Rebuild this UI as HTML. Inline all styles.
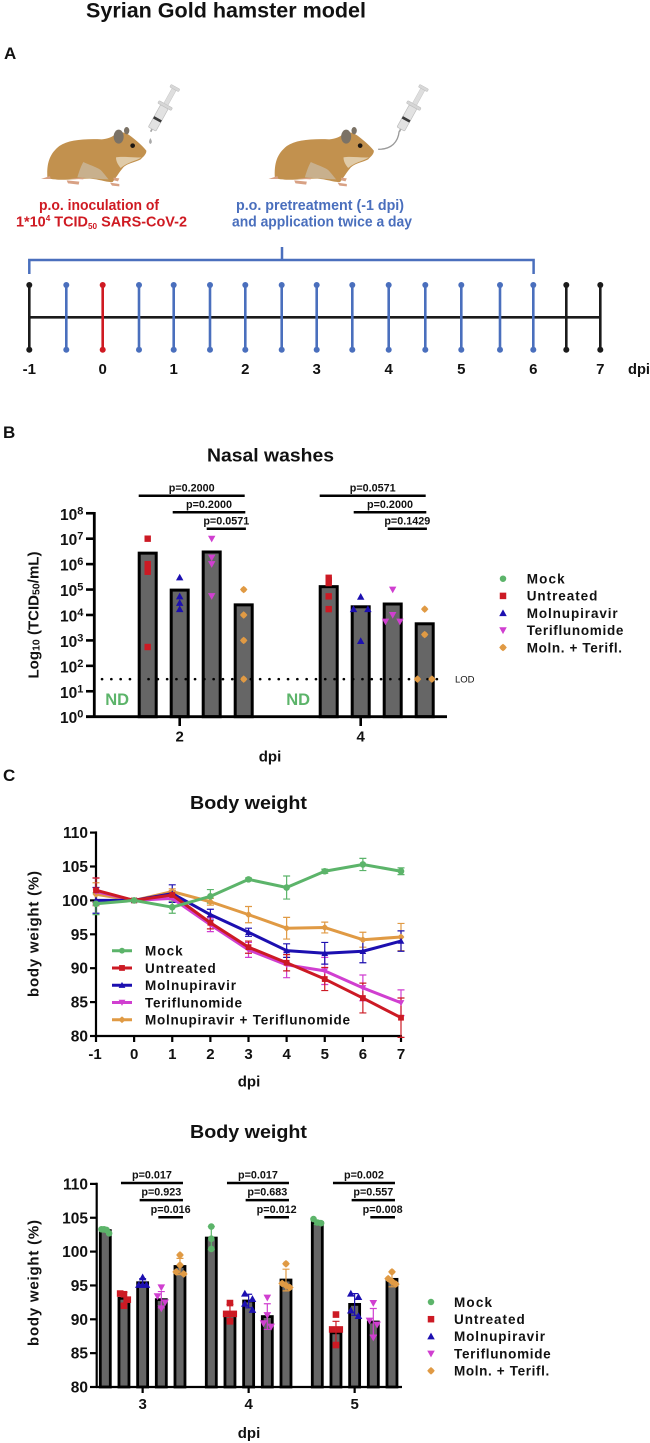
<!DOCTYPE html>
<html lang="en">
<head>
<meta charset="utf-8">
<title>Syrian Gold hamster model</title>
<style>
html,body{margin:0;padding:0;background:#fff;}
svg{display:block;}
text{font-family:"Liberation Sans",sans-serif;font-weight:bold;fill:#111;}
</style>
</head>
<body>
<svg id="fig" xmlns="http://www.w3.org/2000/svg" width="650" height="1443" viewBox="0 0 650 1443">
  <defs>
    <g id="hamster-shape">
      <path d="M52 292 C50 250 58 222 88 198 C115 180 160 176 215 178 C232 176 248 172 258 160 C275 152 292 160 304 170 C322 184 338 198 349 212 C350 222 340 230 332 238 C318 246 296 248 280 262 C268 276 256 296 248 306 C232 308 208 298 180 296 C140 296 100 302 76 298 C66 298 58 296 52 292 Z" fill="#c2914e"/>
      <path d="M142 292 C148 272 154 256 160 246 C176 254 198 260 212 270 C222 280 230 292 236 298 C205 297 170 294 142 292 Z" fill="#c8b08d"/>
      <path d="M258 232 C280 228 310 234 334 232 C322 242 296 244 272 264 C264 254 258 244 258 232 Z" fill="#e0cba8"/>
      <ellipse cx="266" cy="170" rx="15" ry="21" fill="#7b7266"/>
      <ellipse cx="290" cy="152" rx="8" ry="11" fill="#7b7266"/>
      <circle cx="308" cy="197" r="7" fill="#1c1712"/>
      <path d="M33 297 L60 288 L62 297 Z M110 301 L148 305 L146 314 L114 310 Z M240 308 L268 312 L268 319 L246 317 Z M250 293 L268 295 L264 304 L252 301 Z M120 296 L160 293 L160 298 Z" fill="#d8a184"/>
    </g>
    <g id="syringe-shape">
      <g transform="translate(362,155) rotate(29)">
        <rect x="-2.5" y="-10" width="5" height="10" fill="#a5a5a5"/>
        <rect x="-13" y="-85" width="26" height="76" rx="3" fill="#e2e2e2" stroke="#bdbdbd" stroke-width="2"/>
        <rect x="-13" y="-46" width="26" height="8" fill="#3b3b3b"/>
        <rect x="-23" y="-94" width="46" height="9" rx="3" fill="#d6d6d6" stroke="#bdbdbd" stroke-width="1.5"/>
        <rect x="-7" y="-146" width="14" height="52" fill="#dedede" stroke="#c6c6c6" stroke-width="1.5"/>
        <rect x="-15" y="-154" width="30" height="9" rx="3" fill="#d8d8d8" stroke="#bdbdbd" stroke-width="1.5"/>
      </g>
    </g>
  </defs>

  <text x="86" y="17.5" font-size="21" textLength="280" lengthAdjust="spacingAndGlyphs">Syrian Gold hamster model</text>
  <text x="4" y="59" font-size="17">A</text>
  <text x="3" y="438" font-size="17">B</text>
  <text x="3" y="781" font-size="17">C</text>

  <g transform="translate(30,80) scale(0.3333)">
    <use href="#hamster-shape"/>
    <use href="#syringe-shape"/>
    <path d="M361 174 C366 182 368 188 361 192 C355 188 357 182 361 174 Z" fill="#a9a9a9"/>
  </g>
  <g transform="translate(257.5,80) scale(0.3333)">
    <use href="#hamster-shape"/>
    <use href="#syringe-shape" transform="translate(63.5,0)"/>
    <path d="M425 154 C422 186 402 208 362 208" fill="none" stroke="#9a9a9a" stroke-width="4"/>
  </g>

  <text x="39" y="210" font-size="15" style="fill:#cf1a22" textLength="120" lengthAdjust="spacingAndGlyphs">p.o. inoculation of</text>
  <text x="16" y="226.5" font-size="15" style="fill:#cf1a22" textLength="171" lengthAdjust="spacingAndGlyphs">1*10<tspan font-size="8.5" dy="-5.5">4</tspan><tspan dy="5.5"> TCID</tspan><tspan font-size="8.5" dy="2.5">50</tspan><tspan dy="-2.5">  SARS-CoV-2</tspan></text>
  <text x="236" y="210" font-size="15" style="fill:#4a6fbd" textLength="168" lengthAdjust="spacingAndGlyphs">p.o. pretreatment (-1 dpi)</text>
  <text x="232" y="226.5" font-size="15" style="fill:#4a6fbd" textLength="180" lengthAdjust="spacingAndGlyphs">and application twice a day</text>

  <path d="M29.3 274 V260 H533.6 V274 M282 247 V260" fill="none" stroke="#4a6fbd" stroke-width="2.5"/>
  <g id="timeline"></g>

  <text x="270.5" y="461.5" font-size="18.5" text-anchor="middle" textLength="127" lengthAdjust="spacingAndGlyphs">Nasal washes</text>
  <g id="nasal"></g>

  <text x="248.5" y="809" font-size="18.5" text-anchor="middle" textLength="117" lengthAdjust="spacingAndGlyphs">Body weight</text>
  <g id="lines"></g>

  <text x="248.5" y="1138" font-size="18.5" text-anchor="middle" textLength="117" lengthAdjust="spacingAndGlyphs">Body weight</text>
  <g id="bars"></g>
</svg>

<script>
// ---------- shared data ----------
const seriesNames = ['Mock', 'Untreated', 'Molnupiravir', 'Teriflunomide', 'Moln. + Terifl.'];
const seriesColors = ['#5cb46a', '#cc1a24', '#1c0fb0', '#d03fd0', '#e09a44'];
const seriesMarkers = ['circle', 'square', 'up', 'down', 'diamond'];

// ---------- panel A timeline ----------
const timelineDays = [-1, -0.5, 0, 0.5, 1, 1.5, 2, 2.5, 3, 3.5, 4, 4.5, 5, 5.5, 6, 6.5, 7];
const timelineKinds = ['black', 'blue', 'red', 'blue', 'blue', 'blue', 'blue', 'blue', 'blue', 'blue', 'blue', 'blue', 'blue', 'blue', 'blue', 'black', 'black'];

// ---------- panel B nasal washes (TCID50/mL) ----------
const nasalDays = ['2', '4'];
const nasalTicks = [0, 1, 2, 3, 4, 5, 6, 7, 8];
const nasalLod = 30;
const nasalBars = [
  [null, 2.7e6, 9.5e4, 3e6, 2.5e4],
  [null, 1.3e5, 2.1e4, 2.7e4, 4.5e3]
];
const nasalPoints = [
  [[], [1e7, 1e6, 7e5, 5e5, 550], [3e5, 5.4e4, 3e4, 1.7e4], [1e7, 1.8e6, 1e6, 5.5e4], [1e5, 1e4, 1e3, 30]],
  [[], [2.9e5, 2.3e5, 1.8e5, 5.4e4, 1.7e4], [5.2e4, 1.7e4, 1.7e4, 950], [1e5, 1e4, 5.5e3, 5.5e3], [1.7e4, 1.7e3, 30, 30]]
];
const nasalP = [
  ['p=0.2000', 'p=0.2000', 'p=0.0571'],
  ['p=0.0571', 'p=0.2000', 'p=0.1429']
];

// ---------- panel C body weight lines ----------
const lineDays = [-1, 0, 1, 2, 3, 4, 5, 6, 7];
const lineTicksY = [80, 85, 90, 95, 100, 105, 110];
const lineNames = ['Mock', 'Untreated', 'Molnupiravir', 'Teriflunomide', 'Molnupiravir + Teriflunomide'];
const lineMock = [99.5, 100, 99.0, 100.6, 103.1, 101.9, 104.3, 105.3, 104.3];
const lineUntreated = [101.5, 100, 100.8, 96.7, 93.1, 90.8, 88.4, 85.6, 82.7];
const lineMolnu = [100.0, 100, 101.0, 97.9, 95.3, 92.6, 92.2, 92.5, 94.0];
const lineTeri = [101.3, 100, 100.3, 96.4, 92.7, 90.5, 89.6, 87.1, 84.9];
const lineCombo = [100.9, 100, 101.3, 99.8, 97.9, 95.9, 96.0, 94.2, 94.6];
const errMock = [1.6, 0.1, 0.9, 1.0, 0.2, 1.7, 0.3, 0.9, 0.5];
const errUntreated = [1.8, 0.1, 0.6, 0.9, 0.9, 1.2, 1.7, 2.2, 2.9];
const errMolnu = [1.9, 0.1, 1.3, 0.8, 0.6, 1.0, 1.6, 1.7, 1.5];
const errTeri = [2.0, 0.1, 0.5, 1.0, 1.1, 1.9, 2.0, 1.9, 1.9];
const errCombo = [1.7, 0.1, 0.4, 0.5, 1.2, 1.6, 0.8, 1.1, 2.0];

// ---------- panel C body weight bars ----------
const barDays = ['3', '4', '5'];
const barMeans = [
  [103.1, 93.1, 95.4, 92.9, 97.8],
  [102.0, 91.0, 92.7, 90.4, 95.8],
  [104.3, 88.0, 92.2, 89.6, 95.9]
];
const barErrors = [
  [0.2, 0.9, 0.6, 1.2, 1.2],
  [1.7, 1.2, 1.0, 1.9, 1.6],
  [0.3, 1.7, 1.6, 2.0, 1.1]
];
const barPoints = [
  [[103.3, 103.3, 103.2, 102.7], [93.8, 93.7, 92.9, 92.0], [96.2, 95.1, 95.1, 95.1], [94.7, 93.4, 92.5, 91.6], [99.5, 98.0, 97.0, 96.7]],
  [[103.7, 101.9, 100.4], [92.4, 90.8, 90.8, 89.7], [93.8, 93.0, 92.3, 91.4], [93.2, 90.6, 89.4, 88.9], [98.2, 95.3, 95.0, 94.7]],
  [[104.8, 104.3, 104.2], [90.7, 88.5, 88.5, 86.2], [93.8, 93.3, 91.3, 90.5], [92.4, 89.8, 89.2, 87.3], [97.0, 96.0, 95.6, 95.2]]
];
const barP = [
  ['p=0.017', 'p=0.923', 'p=0.016'],
  ['p=0.017', 'p=0.683', 'p=0.012'],
  ['p=0.002', 'p=0.557', 'p=0.008']
];

// ---------- helpers ----------
const NS = 'http://www.w3.org/2000/svg';
function make(tag, parent, attrs, txt) {
  const e = document.createElementNS(NS, tag);
  for (const k in attrs) e.setAttribute(k, attrs[k]);
  if (txt !== undefined) e.textContent = txt;
  parent.appendChild(e);
  return e;
}
function marker(parent, kind, x, y, s, color) {
  if (kind === 'circle') return make('circle', parent, {cx: x, cy: y, r: s * 0.5, fill: color});
  if (kind === 'square') return make('rect', parent, {x: x - s / 2, y: y - s / 2, width: s, height: s, fill: color});
  let pts;
  const h = s * 0.58;
  if (kind === 'up') pts = [[x, y - h], [x + h, y + h * 0.8], [x - h, y + h * 0.8]];
  else if (kind === 'down') pts = [[x, y + h], [x + h, y - h * 0.8], [x - h, y - h * 0.8]];
  else pts = [[x, y - h], [x + h * 0.55, y - h * 0.55], [x + h, y], [x + h * 0.55, y + h * 0.55], [x, y + h], [x - h * 0.55, y + h * 0.55], [x - h, y], [x - h * 0.55, y - h * 0.55]];
  return make('polygon', parent, {points: pts.map(p => p.join(',')).join(' '), fill: color});
}
// spread points with nearly equal plotted heights sideways (Prism-style swarm)
function swarm(ys, threshold, width) {
  const out = [];
  let i = 0;
  while (i < ys.length) {
    let j = i + 1;
    while (j < ys.length && Math.abs(ys[j] - ys[i]) <= threshold) j++;
    const n = j - i;
    for (let k = 0; k < n; k++) out.push(n === 1 ? 0 : -width / 2 + k * width / (n - 1));
    i = j;
  }
  return out;
}
function legendGroup(parent, names, mx, tx, ys, widths) {
  names.forEach((name, s) => {
    const m = marker(parent, seriesMarkers[s], mx, ys(s), 6.5, seriesColors[s]);
    
    
    const t = make('text', parent, {x: tx, y: ys(s) + 4.8, 'font-size': 13.5, textLength: widths[s], lengthAdjust: 'spacing'}, name);
    
    
  });
}
function bracket(parent, x1, x2, y, labelY, label, size, sw) {
  const l = make('line', parent, {x1: x1, x2: x2, y1: y, y2: y, stroke: '#000', 'stroke-width': sw});
  
  
  const t = make('text', parent, {x: (x1 + x2) / 2, y: labelY, 'font-size': size, 'text-anchor': 'middle'}, label);
  
  
}
const legendWidths = [38, 70.7, 91, 96.7, 95.3];

// ---------- draw timeline ----------
(function () {
  const g = document.getElementById('timeline');
  const anchorDays = [-1, 0, 1, 2, 3, 4, 5, 6, 7];
  const anchorPx = [29.3, 102.7, 173.7, 245.3, 316.7, 388.7, 461.3, 533.3, 600.3];
  const halfPx = [66.3, 139, 210, 281.7, 352.3, 425.3, 500, 566.3];
  const kindColor = {black: '#1b1b1b', blue: '#4a6fbd', red: '#cf1a22'};
  const xDay = d => Number.isInteger(d) ? anchorPx[anchorDays.indexOf(d)] : halfPx[anchorDays.indexOf(d - 0.5)];
  const axisLine = make('line', g, {x1: xDay(-1), x2: xDay(7), y1: 317.3, y2: 317.3, stroke: '#1b1b1b', 'stroke-width': 2.6});
  
  
  timelineDays.forEach((d, i) => {
    const c = kindColor[timelineKinds[i]];
    const x = xDay(d);
    const tick = make('line', g, {x1: x, x2: x, y1: 285, y2: 349.7, stroke: c, 'stroke-width': 2.6});
    
    
    const top = make('circle', g, {cx: x, cy: 285, r: 3, fill: c});
    
    
    const bottom = make('circle', g, {cx: x, cy: 349.7, r: 3, fill: c});
    
    
    if (Number.isInteger(d)) {
      const t = make('text', g, {x: x, y: 374, 'font-size': 15, 'text-anchor': 'middle'}, String(d));
      
      
    }
  });
  const unit = make('text', g, {x: 628, y: 374, 'font-size': 15, textLength: 22, lengthAdjust: 'spacingAndGlyphs'}, 'dpi');
  
  
})();

// ---------- draw nasal washes ----------
(function () {
  const g = document.getElementById('nasal');
  const yN = v => 716.7 - Math.log10(v) * 25.43;
  const xN = (day, s) => 115.7 + day * 181 + s * 32;
  nasalDays.forEach((label, d) => {
    nasalBars[d].forEach((v, s) => {
      if (v === null) return;
      const top = yN(v);
      const bar = make('rect', g, {x: xN(d, s) - 8.5, y: top, width: 17, height: 716.7 - top, fill: '#666', stroke: '#000', 'stroke-width': 3});
      
      
    });
  });
  const axisY = make('line', g, {x1: 94.3, x2: 94.3, y1: yN(1e8) - 1.3, y2: 718, stroke: '#000', 'stroke-width': 2.8});
  
  
  const axisX = make('line', g, {x1: 86, x2: 447, y1: 716.7, y2: 716.7, stroke: '#000', 'stroke-width': 2.8});
  
  
  nasalTicks.forEach(p => {
    const y = yN(Math.pow(10, p));
    const tick = make('line', g, {x1: 86, x2: 94, y1: y, y2: y, stroke: '#000', 'stroke-width': 2.6});
    
    
    const t = make('text', g, {x: 60, y: y + 6.5, 'font-size': 15.5}, '10');
    
    
    make('tspan', t, {dy: -5.5, 'font-size': 11}, String(p));
  });
  nasalDays.forEach((label, d) => {
    const tx = xN(d, 2);
    const tick = make('line', g, {x1: tx, x2: tx, y1: 717, y2: 726, stroke: '#000', 'stroke-width': 2.6});
    
    
    const t = make('text', g, {x: tx, y: 741.7, 'font-size': 15, 'text-anchor': 'middle'}, label);
    
    
    const nd = make('text', g, {x: xN(d, 0) + 1.5, y: 705, 'font-size': 16.5, 'text-anchor': 'middle', style: 'fill:#5cb46a'}, 'ND');
    
    
  });
  const lodLine = make('line', g, {x1: 102, x2: 446, y1: yN(nasalLod), y2: yN(nasalLod), stroke: '#000', 'stroke-width': 2.6, 'stroke-linecap': 'round', 'stroke-dasharray': '0.1 9.2'});
  
  
  const lodText = make('text', g, {x: 455, y: yN(nasalLod) + 3.4, 'font-size': 9.5, style: 'font-weight:normal'}, 'LOD');
  
  
  nasalDays.forEach((label, d) => {
    nasalPoints[d].forEach((vals, s) => {
      const ys = vals.map(yN);
      const off = swarm(ys, 0.4, 14.4);
      ys.forEach((y, i) => {
        const m = marker(g, seriesMarkers[s], xN(d, s) + off[i], y, 6.4, seriesColors[s]);
        
        
      });
    });
    nasalP[d].forEach((p, level) => {
      const x1 = xN(d, level + 1) - (9 - 2 * level);
      const x2 = xN(d, 4) + 1 + level * 0.6;
      bracket(g, x1, x2, 495.8 + level * 16.5, 491.6 + level * 16.5, p, 10.8, 2.5);
    });
  });
  const yLabel = make('text', g, {transform: 'translate(38.5,615) rotate(-90)', 'font-size': 15, 'text-anchor': 'middle', textLength: 127, lengthAdjust: 'spacing'});
  
  
  make('tspan', yLabel, {}, 'Log');
  make('tspan', yLabel, {'font-size': 10.5, dy: 1}, '10');
  make('tspan', yLabel, {dy: -1}, ' (TCID');
  make('tspan', yLabel, {'font-size': 10.5, dy: 1}, '50');
  make('tspan', yLabel, {dy: -1}, '/mL)');
  const xLabel = make('text', g, {x: 270, y: 761.7, 'font-size': 15, 'text-anchor': 'middle'}, 'dpi');
  
  
  const legend = make('g', g, {});
  
  
  legendGroup(legend, seriesNames, 503, 526.7, s => 578.7 + s * 17.2, legendWidths);
})();

// ---------- draw body-weight lines ----------
(function () {
  const g = document.getElementById('lines');
  const xL = d => 96 + (d + 1) * 38.125;
  const yL = v => 1036 - (v - 80) * 6.78;
  const order = [4, 3, 2, 1, 0];
  const vals = [lineMock, lineUntreated, lineMolnu, lineTeri, lineCombo];
  const errs = [errMock, errUntreated, errMolnu, errTeri, errCombo];
  const axisY = make('line', g, {x1: 96, x2: 96, y1: yL(110) - 1.2, y2: yL(80) + 1.2, stroke: '#000', 'stroke-width': 2.2});
  
  
  const axisX = make('line', g, {x1: 95, x2: xL(7) + 1, y1: yL(80), y2: yL(80), stroke: '#000', 'stroke-width': 2.2});
  
  
  lineTicksY.forEach(v => {
    const tick = make('line', g, {x1: 90, x2: 96, y1: yL(v), y2: yL(v), stroke: '#000', 'stroke-width': 2.2});
    
    
    const t = make('text', g, {x: 88, y: yL(v) + 5.5, 'font-size': 15.5, 'text-anchor': 'end'}, String(v));
    
    
  });
  lineDays.forEach(d => {
    const tick = make('line', g, {x1: xL(d), x2: xL(d), y1: yL(80), y2: yL(80) + 6, stroke: '#000', 'stroke-width': 2.2});
    
    
    const t = make('text', g, {x: xL(d) - (d < 0 ? 1 : 0), y: 1059, 'font-size': 15, 'text-anchor': 'middle'}, String(d));
    
    
  });
  order.forEach(s => {
    const c = seriesColors[s];
    lineDays.forEach((d, i) => {
      const x = xL(d);
      const hi = yL(vals[s][i] + errs[s][i]);
      const lo = yL(vals[s][i] - errs[s][i]);
      const e = make('path', g, {d: 'M' + (x - 3.5) + ' ' + hi + 'H' + (x + 3.5) + 'M' + x + ' ' + hi + 'V' + lo + 'M' + (x - 3.5) + ' ' + lo + 'H' + (x + 3.5), stroke: c, 'stroke-width': 1.2, fill: 'none'});
      
      
    });
  });
  order.forEach(s => {
    const c = seriesColors[s];
    const pts = lineDays.map((d, i) => xL(d) + ',' + yL(vals[s][i])).join(' ');
    const pl = make('polyline', g, {points: pts, fill: 'none', stroke: c, 'stroke-width': 3, 'stroke-linejoin': 'round'});
    
    
    lineDays.forEach((d, i) => {
      const m = marker(g, seriesMarkers[s], xL(d), yL(vals[s][i]), s === 0 ? 6.6 : 5.8, c);
      
      
    });
  });
  const legendWidthsLine = [37.7, 70.7, 91, 97, 205];
  lineNames.forEach((name, s) => {
    const y = 950.7 + s * 17.25;
    const ln = make('line', g, {x1: 112, x2: 132, y1: y, y2: y, stroke: seriesColors[s], 'stroke-width': 3});
    
    
    const m = marker(g, seriesMarkers[s], 122, y, 5.8, seriesColors[s]);
    
    
    const t = make('text', g, {x: 145, y: y + 4.8, 'font-size': 13.5, textLength: legendWidthsLine[s], lengthAdjust: 'spacing'}, name);
    
    
  });
  const yLabel = make('text', g, {transform: 'translate(38.5,934) rotate(-90)', 'font-size': 15, 'text-anchor': 'middle', textLength: 126, lengthAdjust: 'spacing'}, 'body weight (%)');
  
  
  const xLabel = make('text', g, {x: 249, y: 1086.7, 'font-size': 15, 'text-anchor': 'middle'}, 'dpi');
  
  
})();

// ---------- draw body-weight bars ----------
(function () {
  const g = document.getElementById('bars');
  const yB = v => 1387 - (v - 80) * 6.77;
  const xB = (day, s) => 105.3 + day * 106 + s * 18.67;
  barDays.forEach((label, d) => {
    barMeans[d].forEach((v, s) => {
      const top = yB(v);
      const bar = make('rect', g, {x: xB(d, s) - 5, y: top, width: 10, height: 1387 - top, fill: '#666', stroke: '#000', 'stroke-width': 2.8});
      
      
    });
  });
  const axisY = make('line', g, {x1: 96.7, x2: 96.7, y1: yB(110) - 1.2, y2: 1388, stroke: '#000', 'stroke-width': 2.2});
  
  
  const axisX = make('line', g, {x1: 96, x2: 402, y1: 1387, y2: 1387, stroke: '#000', 'stroke-width': 2.2});
  
  
  lineTicksY.forEach(v => {
    const tick = make('line', g, {x1: 90, x2: 97, y1: yB(v), y2: yB(v), stroke: '#000', 'stroke-width': 2.2});
    
    
    const t = make('text', g, {x: 88, y: yB(v) + 5.5, 'font-size': 15.5, 'text-anchor': 'end'}, String(v));
    
    
  });
  barDays.forEach((label, d) => {
    const tx = xB(d, 2);
    const tick = make('line', g, {x1: tx, x2: tx, y1: 1387, y2: 1393, stroke: '#000', 'stroke-width': 2.2});
    
    
    const t = make('text', g, {x: tx, y: 1409, 'font-size': 15, 'text-anchor': 'middle'}, label);
    
    
    barMeans[d].forEach((v, s) => {
      const x = xB(d, s);
      const c = seriesColors[s];
      const hi = yB(v + barErrors[d][s]);
      const lo = yB(v - barErrors[d][s]);
      const e = make('path', g, {d: 'M' + (x - 3.5) + ' ' + hi + 'H' + (x + 3.5) + 'M' + x + ' ' + hi + 'V' + lo + 'M' + (x - 3.5) + ' ' + lo + 'H' + (x + 3.5), stroke: c, 'stroke-width': 1.2, fill: 'none'});
      
      
      const ys = barPoints[d][s].map(yB);
      const off = swarm(ys, 6.45, 7.6);
      ys.forEach((y, i) => {
        const m = marker(g, seriesMarkers[s], x + off[i], y, 6.6, c);
        
        
      });
    });
    barP[d].forEach((p, level) => {
      const x1 = xB(d, level + 1) - 3;
      const x2 = xB(d, 4) + 3;
      bracket(g, x1, x2, 1183 + level * 17.1, 1178.3 + level * 17.3, p, 10.8, 2.5);
    });
  });
  const yLabel = make('text', g, {transform: 'translate(38.5,1283) rotate(-90)', 'font-size': 15, 'text-anchor': 'middle', textLength: 126, lengthAdjust: 'spacing'}, 'body weight (%)');
  
  
  const xLabel = make('text', g, {x: 249, y: 1438, 'font-size': 15, 'text-anchor': 'middle'}, 'dpi');
  
  
  const legend = make('g', g, {});
  
  
  legendGroup(legend, seriesNames, 431, 454, s => 1302 + s * 17.2, legendWidths);
})();
</script>
</body>
</html>
